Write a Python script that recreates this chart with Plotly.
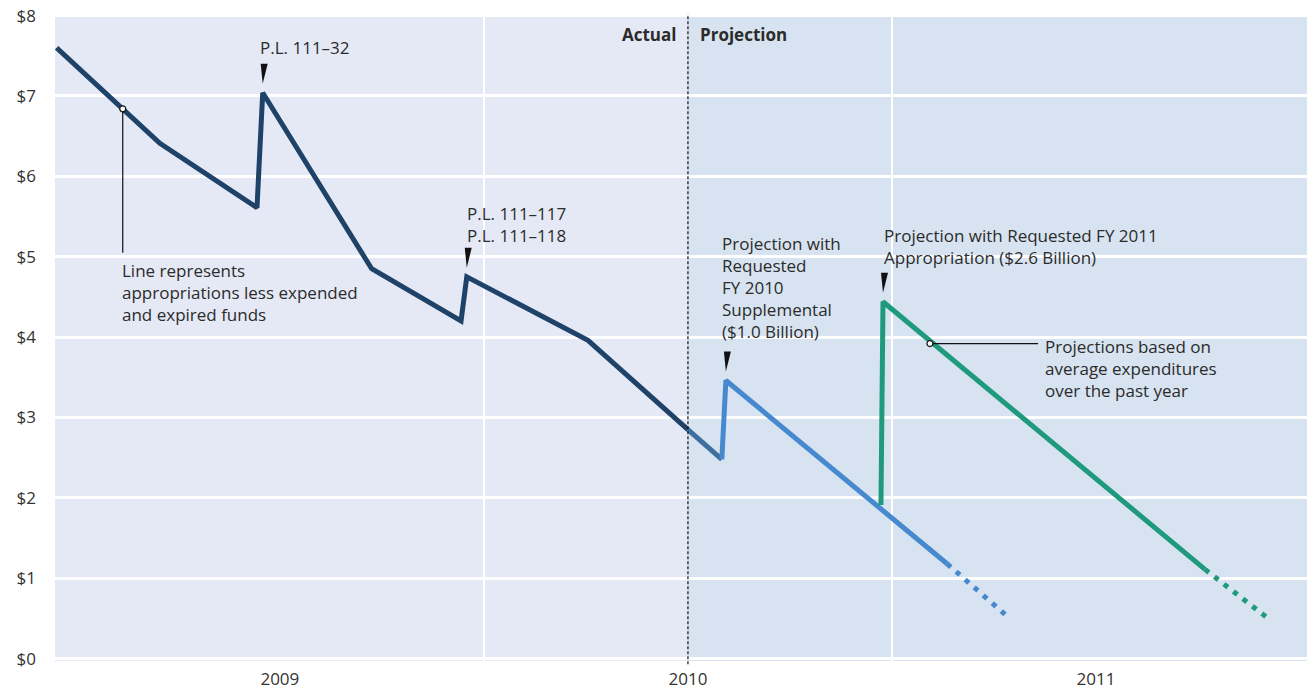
import plotly.graph_objects as go

# ---------------- data ----------------
actual_x = [2008.453, 2008.706, 2008.944, 2008.958, 2009.225, 2009.444, 2009.458, 2009.755, 2010.0]
actual_y = [7.60, 6.41, 5.61, 7.04, 4.85, 4.20, 4.75, 3.96, 2.85]

supp_x = [2010.0, 2010.083, 2010.093, 2010.635]
supp_y = [2.85, 2.48, 3.46, 1.18]
supp_dash_x = [2010.635, 2010.777]
supp_dash_y = [1.18, 0.55]

fy11_x = [2010.473, 2010.478, 2011.267]
fy11_y = [1.91, 4.44, 1.11]
fy11_dash_x = [2011.267, 2011.419]
fy11_dash_y = [1.11, 0.51]

y_tickvals = [0, 1, 2, 3, 4, 5, 6, 7, 8]
y_ticktext = ["$0", "$1", "$2", "$3", "$4", "$5", "$6", "$7", "$8"]
x_tickvals = [2009, 2010, 2011]
x_ticktext = ["2009", "2010", "2011"]
boundary_x = 2010.0

# annotation anchor points on the lines (circle callouts)
callout_left = (2008.615, 6.84)
callout_right = (2010.593, 3.92)

# peaks marked with a small pointer
peaks = [(actual_x[3], actual_y[3]), (actual_x[6], actual_y[6]),
         (supp_x[2], supp_y[2]), (fy11_x[1], fy11_y[1])]

NAVY = "#1e4268"
BLUE = "#4689cf"
BLUE_DARK = "#3f6f9f"
GREEN = "#1f9a7c"
TXT = "#2b2b2b"
FONT = "Open Sans"

fig = go.Figure()

# lines
fig.add_trace(go.Scatter(x=actual_x, y=actual_y, mode="lines",
                         line=dict(color=NAVY, width=5), hoverinfo="skip"))
fig.add_trace(go.Scatter(x=supp_x[:2], y=supp_y[:2], mode="lines",
                         line=dict(color=BLUE_DARK, width=5), hoverinfo="skip"))
fig.add_trace(go.Scatter(x=supp_x[1:], y=supp_y[1:], mode="lines",
                         line=dict(color=BLUE, width=5), hoverinfo="skip"))
fig.add_trace(go.Scatter(x=supp_dash_x, y=supp_dash_y, mode="lines",
                         line=dict(color=BLUE, width=5, dash="5px,7px"), hoverinfo="skip"))
fig.add_trace(go.Scatter(x=fy11_x, y=fy11_y, mode="lines",
                         line=dict(color=GREEN, width=5), hoverinfo="skip"))
fig.add_trace(go.Scatter(x=fy11_dash_x, y=fy11_dash_y, mode="lines",
                         line=dict(color=GREEN, width=5, dash="5px,7px"), hoverinfo="skip"))

# leader lines
fig.add_trace(go.Scatter(x=[callout_left[0], callout_left[0]], y=[callout_left[1], 5.05],
                         mode="lines", line=dict(color="#111", width=1.2), hoverinfo="skip"))
fig.add_trace(go.Scatter(x=[callout_right[0], 2010.858], y=[callout_right[1], callout_right[1]],
                         mode="lines", line=dict(color="#111", width=1.2), hoverinfo="skip"))
fig.add_trace(go.Scatter(x=[callout_left[0], callout_right[0]], y=[callout_left[1], callout_right[1]],
                         mode="markers",
                         marker=dict(symbol="circle", size=6, color="white",
                                     line=dict(color="#111", width=1.2)),
                         hoverinfo="skip"))

shapes = []
# projection background
shapes.append(dict(type="rect", xref="x", yref="paper", x0=boundary_x, x1=2011.6,
                   y0=0, y1=1, fillcolor="#d7e3f0", line=dict(width=0), layer="below"))
# actual / projection divider
shapes.append(dict(type="line", xref="x", yref="paper", x0=boundary_x, x1=boundary_x,
                   y0=-0.005, y1=1.0, line=dict(color="#111", width=1.2, dash="3px,2px"),
                   layer="above"))
# pointer wedges above peaks
for px, py in peaks:
    shapes.append(dict(type="path", xref="x", yref="y", xsizemode="pixel", ysizemode="pixel",
                       xanchor=px, yanchor=py, path="M -2,29 L 5,29 L 0,9 Z",
                       fillcolor="#111", line=dict(width=0), layer="above"))

annotations = []


def note(x, y, text, anchor="left"):
    annotations.append(dict(x=x, y=y, xref="x", yref="y", text=text, showarrow=False,
                            xanchor=anchor, yanchor="middle", align=anchor,
                            font=dict(family=FONT, size=17, color=TXT)))


note(2008.946, 7.60, "P.L. 111–32")
note(2009.453, 5.40, "P.L. 111–117<br>P.L. 111–118")
note(2010.078, 4.62, "Projection with<br>Requested<br>FY 2010<br>Supplemental<br>($1.0 Billion)")
note(2010.475, 5.13, "Projection with Requested FY 2011<br>Appropriation ($2.6 Billion)")
note(2010.870, 3.61, "Projections based on<br>average expenditures<br>over the past year")
note(2008.608, 4.55, "Line represents<br>appropriations less expended<br>and expired funds")
note(2009.975, 7.77, "<b>Actual</b>", anchor="right")
note(2010.025, 7.77, "<b>Projection</b>", anchor="left")

fig.update_layout(
    width=1311, height=694,
    margin=dict(l=55, r=4, t=13, b=29),
    paper_bgcolor="white",
    plot_bgcolor="#e5e9f5",
    showlegend=False,
    font=dict(family=FONT, size=16, color="#333"),
    shapes=shapes,
    annotations=annotations,
    xaxis=dict(range=[2008.449, 2011.517], tickvals=x_tickvals, ticktext=x_ticktext,
               showgrid=False, zeroline=False, showline=False, ticks="",
               ticklabelstandoff=6,
               tickfont=dict(family=FONT, size=17, color="#333"),
               minor=dict(tickvals=[2009.5, 2010.5], showgrid=True, gridcolor="white",
                          gridwidth=2, ticks=""),
               fixedrange=True),
    yaxis=dict(range=[-0.03, 8.02], tickvals=y_tickvals, ticktext=y_ticktext,
               showgrid=True, gridcolor="white", gridwidth=2.5, zeroline=False,
               showline=False, ticks="", ticklabelstandoff=18,
               tickfont=dict(family=FONT, size=17, color="#333"),
               fixedrange=True),
)

fig.write_html("out.html", config={"displayModeBar": False},
               post_script="document.body.style.margin='0';")
